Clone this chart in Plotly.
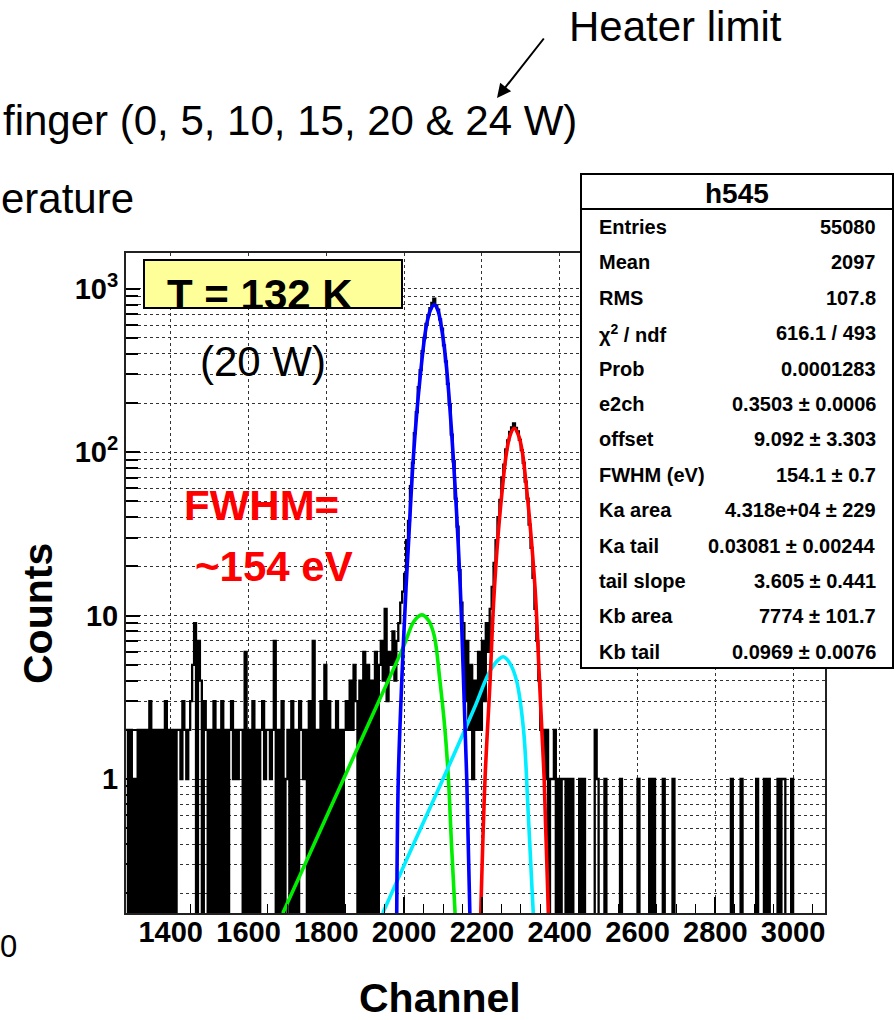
import plotly.graph_objects as go

# ---------------- data ----------------
BIN_START = 1285          # first bin edge (channel)
BIN_WIDTH = 5             # channels per bin
ZERO_FLOOR = 1e-3         # empty bins drop to the bottom of a log frame

# background left of the peaks, channels 1285-1845
left_counts = [2, 0, 2, 0, 1, 0, 2, 0, 2, 0, 2, 0, 3, 0, 2, 0, 2, 0, 2, 0, 3, 0, 2, 0, 2, 0, 2,
               2, 1, 3, 2, 1, 2,
               3, 5, 9, 0, 7, 4, 0, 3,
               2, 0, 2, 0, 3, 0, 2, 0, 3, 0, 2, 0, 2, 3, 1, 2, 1, 2, 2, 0, 6, 0,
               2, 0, 3, 0, 2, 0, 2, 3, 1, 2, 2, 1, 2, 7, 0, 2, 0, 3, 0, 1,
               2, 0, 3, 0, 2, 0, 3, 2, 1, 2, 0, 3, 0, 7, 0, 2, 0, 3, 0, 5, 0, 3, 0, 2, 0, 3, 0, 2, 0, 2]
# rising tail region, channels 1850-1995
rise_counts = [3, 2, 4, 2, 5, 3, 0, 4, 0, 6, 0, 5, 0, 4, 0, 6, 0, 5, 7, 4, 11, 3, 6, 5, 8, 4, 7, 9, 12, 14]
# Ka / Kb peak region, channels 2000-2370
peak_counts = [18, 29, 38, 62, 86, 131, 176, 250, 318, 415, 500, 610, 690, 760, 820, 870,
               790, 745, 650, 570, 450, 360, 262, 195, 128, 88, 52, 35, 19, 12,
               9, 3, 7, 2, 5, 1, 4, 2, 6, 2, 7, 3, 9, 6,
               11, 15, 21, 29, 40, 51, 70, 84, 104, 118, 133, 142, 150,
               141, 134, 119, 103, 86, 66, 52, 36, 26, 17, 11, 7, 4, 2, 2, 1, 2, 0]
# sparse hits right of the peaks (channels 2375-3075): bin start channel -> count
right_hit_channels = [2375, 2380, 2385, 2395, 2405, 2410, 2420, 2430, 2450, 2460, 2490, 2495,
                      2515, 2555, 2600, 2630, 2640, 2665, 2690, 2840, 2865, 2905, 2925, 2935,
                      2960, 2970, 2975, 2995]
right_hit_counts = [1, 1, 2, 1, 1, 1, 1, 1, 1, 1, 2, 1,
                    1, 1, 1, 1, 1, 1, 1, 1, 1, 1, 1, 1,
                    1, 1, 1, 1]
RIGHT_END = 3080

# fit components (channel, counts)
ka_ch = [1981, 1985, 1994, 2005, 2011, 2024, 2041, 2057, 2068, 2077.5, 2087, 2097, 2109, 2127, 2144, 2152, 2161, 2169]
ka_y = [0.15, 1.0, 4.0, 15, 27, 95, 285, 590, 745, 800, 735, 560, 330, 88, 15.5, 4.5, 1.0, 0.15]
kb_ch = [2197, 2208, 2221, 2230, 2242, 2252, 2262, 2272, 2283, 2294, 2304, 2313, 2322, 2330, 2338, 2347, 2354, 2360, 2371]
kb_y = [0.15, 1.0, 4.0, 12, 32, 58, 95, 126, 140, 127, 100, 66, 40, 24, 13, 4.5, 2.0, 1.0, 0.15]
ka_tail_ch = [1688, 1760, 1840, 1920, 2000, 2025, 2045, 2062, 2077, 2092, 2105, 2114, 2122, 2131]
ka_tail_y = [0.151, 0.36, 0.95, 2.5, 6.6, 9.2, 10.1, 9.4, 7.6, 4.0, 2.0, 0.99, 0.39, 0.151]
kb_tail_ch = [1945, 2020, 2100, 2180, 2217, 2240, 2255, 2272, 2289, 2307, 2319, 2332]
kb_tail_y = [0.151, 0.38, 1.0, 2.7, 4.4, 5.3, 5.6, 5.1, 4.0, 2.0, 0.62, 0.151]

x_major_ticks = [1400, 1600, 1800, 2000, 2200, 2400, 2600, 2800, 3000]
y_decades = [1, 10, 100, 1000]
y_decade_labels = ["1", "10", "10<sup>2</sup>", "10<sup>3</sup>"]

stat_title = "h545"
stat_labels = ["Entries", "Mean", "RMS", "χ<sup>2</sup> / ndf", "Prob", "e2ch", "offset",
               "FWHM (eV)", "Ka area", "Ka tail", "tail slope", "Kb area", "Kb tail"]
stat_values = ["55080", "2097", "107.8", "616.1 / 493", "0.0001283", "0.3503 ± 0.0006",
               "9.092 ± 3.303", "154.1 ± 0.7", "4.318e+04 ± 229", "0.03081 ± 0.00244",
               "3.605 ± 0.441", "7774 ± 101.7", "0.0969 ± 0.0076"]

# ---------------- build histogram ----------------
counts = left_counts + rise_counts + peak_counts
n_right = (RIGHT_END - (BIN_START + BIN_WIDTH * len(counts))) // BIN_WIDTH
right = [0] * n_right
for ch, c in zip(right_hit_channels, right_hit_counts):
    idx = (ch - BIN_START) // BIN_WIDTH - len(counts)
    right[idx] = c
counts = counts + right

edges = [BIN_START + BIN_WIDTH * i for i in range(len(counts) + 1)]
hy = [c if c > 0 else ZERO_FLOOR for c in counts]
hy = hy + [hy[-1]]

# ---------------- layout helpers ----------------
W, H = 894, 1020
def fx(p):
    return p / W
def fy(p):
    return 1 - p / H

FONT = "Liberation Sans, Arial, Helvetica, sans-serif"

fig = go.Figure()
fig.add_trace(go.Scatter(x=edges, y=hy, mode="lines", line=dict(color="black", width=2.3, shape="hv"),
                         hoverinfo="skip", showlegend=False))
for xs, ys, col in [(ka_tail_ch, ka_tail_y, "#00EE00"), (kb_tail_ch, kb_tail_y, "#00EEFF"),
                    (ka_ch, ka_y, "#0000FF"), (kb_ch, kb_y, "#FF0000")]:
    fig.add_trace(go.Scatter(x=xs, y=ys, mode="lines", line=dict(color=col, width=3.6, shape="spline", smoothing=1.0),
                             hoverinfo="skip", showlegend=False))

# minor log ticks 2..9 x 10^n (gridlines + inside ticks)
y_minor = []
for d in [0.1, 1, 10, 100, 1000]:
    for k in range(2, 10):
        v = k * d
        if 0.15 <= v <= 1600:
            y_minor.append(v)

fig.update_layout(
    width=W, height=H, autosize=False,
    margin=dict(l=0, r=0, t=0, b=0),
    paper_bgcolor="white", plot_bgcolor="white",
    font=dict(family=FONT, color="black"),
    xaxis=dict(range=[1285, 3082], domain=[fx(126), fx(825)],
               showline=True, linecolor="#222", linewidth=2, mirror=True,
               tickmode="array", tickvals=x_major_ticks, ticks="inside", ticklen=16, tickwidth=1.5,
               tickcolor="black", ticklabelstandoff=-8,
               showgrid=True, gridcolor="#333", griddash="dot", gridwidth=1,
               minor=dict(tick0=1300, dtick=50, ticks="inside", ticklen=9, tickwidth=1.2,
                          tickcolor="black", showgrid=False),
               tickfont=dict(family=FONT, size=29, weight="bold", color="black"),
               zeroline=False, fixedrange=True),
    yaxis=dict(type="log", range=[-0.820, 3.219], domain=[fy(913), fy(253)],
               showline=True, linecolor="#222", linewidth=2, mirror=True,
               tickmode="array", tickvals=y_decades, ticktext=y_decade_labels,
               ticks="inside", ticklen=14, tickwidth=1.5, tickcolor="black",
               showgrid=True, gridcolor="#333", griddash="dot", gridwidth=1,
               minor=dict(tickmode="array", tickvals=y_minor, ticks="inside", ticklen=12, tickwidth=1.5,
                          tickcolor="black", showgrid=True, gridcolor="#333", griddash="dot", gridwidth=1),
               tickfont=dict(family=FONT, size=29, weight="bold", color="black"),
               zeroline=False, fixedrange=True),
)

shapes = []
# T = 132 K label box
shapes.append(dict(type="rect", xref="paper", yref="paper", x0=fx(144), x1=fx(402), y0=fy(308), y1=fy(260),
                   fillcolor="#FFFF99", line=dict(color="black", width=2), layer="above"))
# stats box
shapes.append(dict(type="rect", xref="paper", yref="paper", x0=fx(581), x1=fx(893), y0=fy(668), y1=fy(174),
                   fillcolor="white", line=dict(color="black", width=2), layer="above"))
shapes.append(dict(type="line", xref="paper", yref="paper", x0=fx(581), x1=fx(893), y0=fy(209), y1=fy(209),
                   line=dict(color="black", width=2), layer="above"))
fig.update_layout(shapes=shapes)

ann = []
def text(x, y, s, size, bold=False, color="black", xanchor="left", angle=0):
    ann.append(dict(xref="paper", yref="paper", x=fx(x), y=fy(y), text=s, showarrow=False,
                    xanchor=xanchor, yanchor="middle", textangle=angle,
                    font=dict(family=FONT, size=size, color=color, weight="bold" if bold else "normal")))

text(567, 26, "Heater limit", 42)
text(1, 120, "finger (0, 5, 10, 15, 20 & 24 W)", 42)
text(-1, 199, "erature", 42)
text(-2, 946, "0", 31)
text(165, 294, "T = 132 K", 42, bold=True)
text(198, 361, "(20 W)", 42)
text(182, 505, "FWHM=", 42, bold=True, color="#FF0000")
text(193, 566, "~154 eV", 42, bold=True, color="#FF0000")
text(38, 614, "Counts", 41, bold=True, xanchor="center", angle=-90)
text(440, 998, "Channel", 41, bold=True, xanchor="center")

# stats box text
text(737, 193, stat_title, 28, bold=True, xanchor="center")
for k, (lab, val) in enumerate(zip(stat_labels, stat_values)):
    yrow = 227 + k * 35.4
    text(597, yrow, lab, 20, bold=True)
    text(878, yrow, val, 20, bold=True, xanchor="right")

# arrow to "24 W"
ann.append(dict(xref="paper", yref="paper", x=fx(497), y=fy(98), ax=48, ay=-61, text="",
                showarrow=True, arrowhead=2, arrowsize=1.4, arrowwidth=2, arrowcolor="black"))
fig.update_layout(annotations=ann)

fig.write_html("out.html", config={"displayModeBar": False})
